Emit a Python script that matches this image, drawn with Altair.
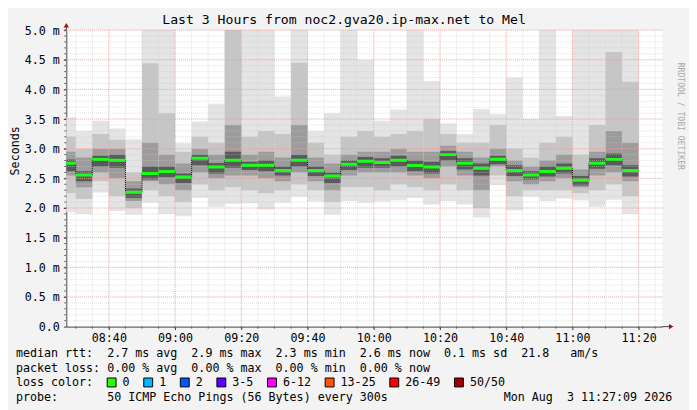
import altair as alt
import pandas as pd
import numpy as np

# ---------------- data ----------------
END_TIMES = ["08:30", "08:35", "08:40", "08:45", "08:50", "08:55", "09:00", "09:05",
             "09:10", "09:15", "09:20", "09:25", "09:30", "09:35", "09:40", "09:45",
             "09:50", "09:55", "10:00", "10:05", "10:10", "10:15", "10:20", "10:25",
             "10:30", "10:35", "10:40", "10:45", "10:50", "10:55", "11:00", "11:05",
             "11:10", "11:15", "11:20"]
MEDIAN = [2.755, 2.555, 2.82, 2.805, 2.267, 2.583, 2.617, 2.522, 2.838, 2.69,
          2.805, 2.72, 2.72, 2.633, 2.805, 2.633, 2.538, 2.738, 2.788, 2.767,
          2.805, 2.717, 2.69, 2.90, 2.755, 2.672, 2.822, 2.633, 2.555, 2.617,
          2.672, 2.467, 2.755, 2.82, 2.633]
MIN_RTT = [1.93, 1.90, 2.26, 1.95, 1.89, 2.09, 1.90, 1.86, 2.17, 2.02,
           2.07, 2.08, 1.98, 2.09, 2.19, 2.11, 1.89, 2.12, 2.09, 2.11,
           2.13, 2.17, 2.06, 2.12, 2.06, 1.84, 2.39, 1.96, 2.19, 2.12,
           2.16, 2.13, 2.02, 2.14, 1.90]
MAX_RTT = [3.53, 3.30, 3.47, 3.34, 3.16, 5.00, 5.00, 3.09, 3.46, 3.76,
           5.00, 5.00, 5.00, 3.88, 5.00, 3.30, 3.60, 5.00, 4.49, 3.47,
           3.66, 5.00, 4.14, 3.43, 3.25, 3.67, 3.58, 4.20, 3.50, 5.00,
           3.55, 5.00, 5.00, 5.00, 5.00]
P10 = [2.25, 2.15, 2.45, 2.20, 2.00, 2.30, 2.20, 2.10, 2.40, 2.30,
       2.35, 2.30, 2.25, 2.30, 2.40, 2.30, 2.10, 2.35, 2.35, 2.30,
       2.40, 2.35, 2.30, 2.40, 2.30, 2.00, 2.55, 2.20, 2.30, 2.30,
       2.30, 2.25, 2.30, 2.40, 2.20]
P90 = [3.20, 3.00, 3.25, 3.15, 2.60, 4.44, 3.60, 2.95, 3.20, 3.10,
       5.00, 3.20, 3.30, 3.25, 4.45, 3.10, 2.90, 3.20, 3.30, 3.20,
       3.25, 3.30, 3.50, 3.25, 3.10, 3.10, 3.40, 3.00, 2.85, 3.10,
       3.20, 2.90, 3.40, 4.63, 4.13]
P25 = [2.55, 2.35, 2.60, 2.50, 2.12, 2.45, 2.40, 2.30, 2.60, 2.50,
       2.55, 2.55, 2.50, 2.45, 2.60, 2.45, 2.30, 2.55, 2.60, 2.60,
       2.60, 2.55, 2.50, 2.70, 2.55, 2.30, 2.70, 2.45, 2.40, 2.45,
       2.50, 2.35, 2.55, 2.60, 2.45]
P75 = [2.95, 2.85, 3.00, 3.00, 2.45, 3.10, 2.90, 2.75, 3.00, 2.90,
       3.40, 2.90, 2.95, 2.85, 3.40, 2.85, 2.75, 2.90, 2.95, 2.95,
       3.00, 2.95, 2.95, 3.05, 2.95, 2.85, 3.00, 2.80, 2.70, 2.80,
       2.90, 2.65, 2.95, 3.30, 3.10]
CORE_LO = [2.62, 2.45, 2.70, 2.68, 2.17, 2.48, 2.52, 2.42, 2.72, 2.58,
           2.68, 2.64, 2.62, 2.55, 2.70, 2.54, 2.42, 2.64, 2.68, 2.68,
           2.70, 2.62, 2.58, 2.80, 2.65, 2.55, 2.74, 2.54, 2.48, 2.53,
           2.58, 2.38, 2.66, 2.72, 2.53]
CORE_HI = [2.82, 2.62, 2.88, 2.90, 2.33, 2.70, 2.70, 2.58, 2.90, 2.76,
           2.95, 2.78, 2.80, 2.70, 2.90, 2.70, 2.60, 2.80, 2.86, 2.84,
           2.88, 2.80, 2.78, 2.96, 2.84, 2.75, 2.88, 2.72, 2.62, 2.70,
           2.75, 2.54, 2.84, 2.92, 2.72]

X_TICKS = ["08:40", "09:00", "09:20", "09:40", "10:00", "10:20", "10:40", "11:00", "11:20"]
Y_TICKS = [0.0, 0.5, 1.0, 1.5, 2.0, 2.5, 3.0, 3.5, 4.0, 4.5, 5.0]

TITLE = "Last 3 Hours from noc2.gva20.ip-max.net to Mel"
ROW_RTT = "median rtt:  2.7 ms avg  2.9 ms max  2.3 ms min  2.6 ms now  0.1 ms sd  21.8   am/s"
ROW_LOSS = "packet loss: 0.00 % avg  0.00 % max  0.00 % min  0.00 % now"
ROW_COLOR = "loss color:"
ROW_PROBE = "probe:       50 ICMP Echo Pings (56 Bytes) every 300s"
STAMP = "Mon Aug  3 11:27:09 2026"
LOSS_LABELS = ["0", "1", "2", "3-5", "6-12", "13-25", "26-49", "50/50"]
LOSS_COLORS = ["#26ff00", "#00b8ff", "#0059ff", "#5e00ff", "#ff00ff", "#ff5500", "#ff0000", "#a10000"]

# ---------------- build ----------------
def to_min(s):
    h, m = s.split(":")
    return int(h) * 60 + int(m)

END_M = [to_min(t) for t in END_TIMES]
df = pd.DataFrame({
    "start": [e - 5 for e in END_M], "end": END_M,
    "med": MEDIAN, "lo": MIN_RTT, "hi": MAX_RTT, "p10": P10, "p90": P90,
    "p25": P25, "p75": P75, "clo": CORE_LO, "chi": CORE_HI,
})

X0, X1 = 8 * 60 + 27 + 9 / 60, 11 * 60 + 27 + 9 / 60
W, H = 603, 300
FONT = "DejaVu Sans Mono"
FS = 11.8
CW = FS * 0.602

xs = alt.Scale(domain=[X0, X1], nice=False, zero=False)
ys = alt.Scale(domain=[0, 5], nice=False, zero=True)

x_axis = alt.Axis(
    values=[to_min(t) for t in X_TICKS],
    labelExpr="(floor(datum.value/60) < 10 ? '0' : '') + floor(datum.value/60) + ':' + "
              "((datum.value % 60) < 10 ? '0' : '') + (datum.value % 60)",
    title=None, grid=False, domainColor="#444444", tickColor="#444444", tickSize=3,
    labelFont=FONT, labelFontSize=FS, labelColor="#000000", labelPadding=3, labelFlush=False,
)
y_axis = alt.Axis(
    values=Y_TICKS,
    labelExpr="datum.value == 0 ? '0.0' : format(datum.value, '.1f') + ' m'",
    title=None, grid=False, domainColor="#444444", tickColor="#444444", tickSize=3,
    labelFont=FONT, labelFontSize=FS, labelColor="#000000", labelPadding=4,
)


def X(field):
    return alt.X(field, type="quantitative", scale=xs, axis=x_axis)


def Y(field):
    return alt.Y(field, type="quantitative", scale=ys, axis=y_axis)


layers = []
# smoke bands
for lo, hi, col in [("lo", "hi", "#e4e4e4"), ("p10", "p90", "#c6c6c6"),
                    ("p25", "p75", "#9c9c9c"), ("clo", "chi", "#5a5a5a")]:
    layers.append(
        alt.Chart(df).mark_rect(color=col, clip=True, strokeWidth=0).encode(
            x=X("start"), x2="end", y=Y(lo), y2=hi)
    )

# grid
vminor = pd.DataFrame({"t": np.arange(510, 686, 5)})
vmajor = pd.DataFrame({"t": [to_min(t) for t in X_TICKS]})
hminor = pd.DataFrame({"v": np.round(np.arange(0.1, 5.01, 0.1), 2)})
hmajor = pd.DataFrame({"v": Y_TICKS[1:]})
layers.append(alt.Chart(vminor).mark_rule(color="#c8c8c8", strokeDash=[1, 1], opacity=0.55).encode(x=X("t")))
layers.append(alt.Chart(hminor).mark_rule(color="#c8c8c8", strokeDash=[1, 1], opacity=0.55).encode(y=Y("v")))
layers.append(alt.Chart(vmajor).mark_rule(color="#ff8c8c", strokeDash=[1, 1], opacity=0.6).encode(x=X("t")))
layers.append(alt.Chart(hmajor).mark_rule(color="#ff8c8c", strokeDash=[1, 1], opacity=0.6).encode(y=Y("v")))

# minor ticks on axes
layers.append(alt.Chart(vminor).mark_rule(color="#555555").encode(
    x=X("t"), y=alt.value(H), y2=alt.value(H + 2)))
layers.append(alt.Chart(hminor).mark_rule(color="#555555").encode(
    y=Y("v"), x=alt.value(-2), x2=alt.value(0)))

# median connectors + medians
conn = pd.DataFrame({"t": df["start"][1:].values, "a": df["med"][:-1].values, "b": df["med"][1:].values})
layers.append(alt.Chart(conn).mark_rule(color="#000000", strokeDash=[1, 1], strokeWidth=1).encode(
    x=X("t"), y=Y("a"), y2="b"))
layers.append(alt.Chart(df).mark_rule(color="#1aff1a", strokeWidth=3, clip=True).encode(
    x=X("start"), x2="end", y=Y("med")))

# axis arrows
layers.append(alt.Chart(pd.DataFrame({"k": [0]})).mark_rule(color="#444444").encode(
    x=alt.value(W), x2=alt.value(W + 8), y=alt.value(H)))
layers.append(alt.Chart(pd.DataFrame({"k": [0]})).mark_rule(color="#444444").encode(
    x=alt.value(0), y=alt.value(-4), y2=alt.value(0)))
layers.append(alt.Chart(pd.DataFrame({"k": [0]})).mark_point(
    shape="triangle-up", filled=True, color="#a01010", size=28, opacity=1).encode(
    x=alt.value(0), y=alt.value(-5)))
layers.append(alt.Chart(pd.DataFrame({"k": [0]})).mark_point(
    shape="triangle-right", filled=True, color="#a01010", size=28, opacity=1).encode(
    x=alt.value(W + 9), y=alt.value(H)))


def text_layer(txt, x, y, size=FS, align="left", angle=0, color="#000000"):
    return alt.Chart(pd.DataFrame({"t": [txt.replace(" ", "\u00a0")]})).mark_text(
        font=FONT, fontSize=size, align=align, baseline="middle", angle=angle, color=color
    ).encode(x=alt.value(x), y=alt.value(y), text="t:N")


LX = 16 - 67
layers.append(text_layer(TITLE, 281, -10, size=13.3, align="center"))
layers.append(text_layer("Seconds", -52, 147, angle=270))
layers.append(text_layer("RRDTOOL / TOBI OETIKER", 620.5, 33, size=8.2, angle=90, color="#a8a8a8"))
layers.append(text_layer(ROW_RTT, LX, 327))
layers.append(text_layer(ROW_LOSS, LX, 341.5))
layers.append(text_layer(ROW_COLOR, LX, 356.5))
layers.append(text_layer(ROW_PROBE, LX, 371))
layers.append(text_layer(STAMP, 613, 371, align="right"))

# loss colour legend
bx, lx = [], []
cur = LX + 13 * CW
for lab in LOSS_LABELS:
    bx.append(cur + 4.5)
    lx.append(cur + 15.6)
    cur = cur + 15.6 + len(lab) * CW + 14.3
leg = pd.DataFrame({"bx": bx, "lx": lx, "lab": LOSS_LABELS, "col": LOSS_COLORS})
layers.append(alt.Chart(leg).mark_square(size=81, opacity=1, stroke="#000000", strokeWidth=1).encode(
    x=alt.X("bx:Q", scale=None), y=alt.value(356.5),
    fill=alt.Fill("col:N", scale=None)))
layers.append(alt.Chart(leg).mark_text(font=FONT, fontSize=FS, align="left", baseline="middle",
                                       color="#000000").encode(
    x=alt.X("lx:Q", scale=None), y=alt.value(356.5), text="lab:N"))

chart = alt.layer(*layers).properties(
    width=W, height=H,
    padding={"left": 59, "top": 20, "right": 27, "bottom": 82},
    autosize=alt.AutoSizeParams(type="none"),
    background="#f3f3f3",
).configure_view(fill="#ffffff", stroke=None)

chart.save("out.html", embed_options={"renderer": "svg", "actions": False})
